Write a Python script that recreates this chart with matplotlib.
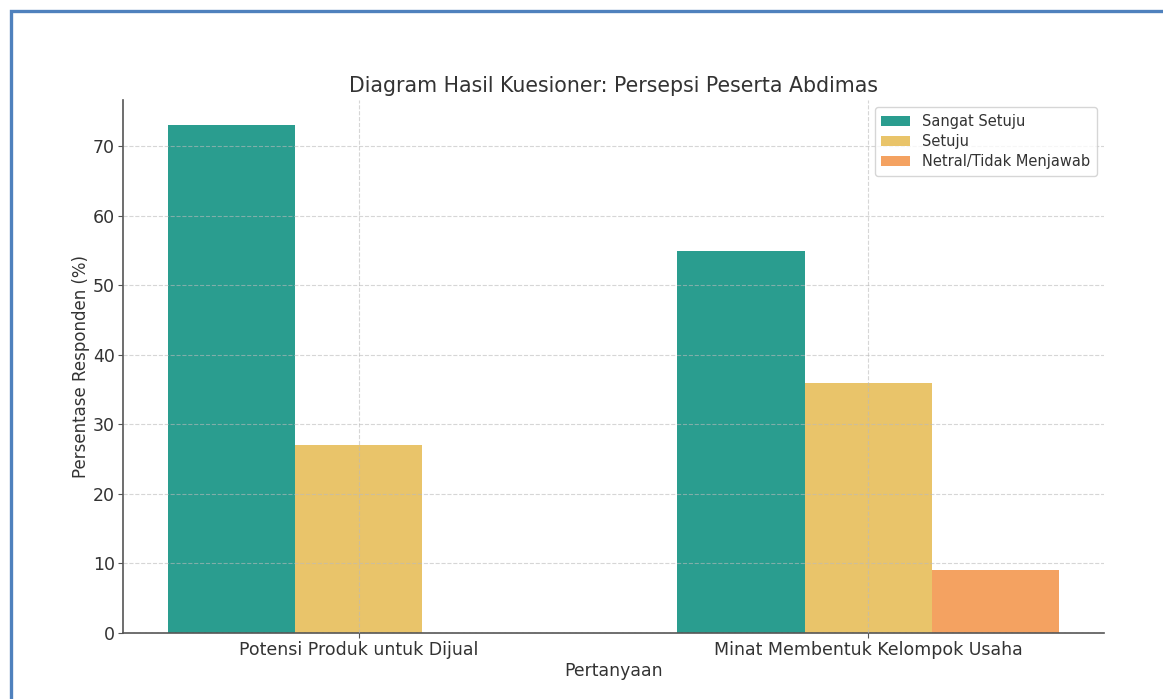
import matplotlib.pyplot as plt
import matplotlib.patches as mpatches
import numpy as np

# data
questions = ["Potensi Produk untuk Dijual", "Minat Membentuk Kelompok Usaha"]
sangat_setuju = [73, 55]
setuju = [27, 36]
netral = [0, 9]

series_names = ["Sangat Setuju", "Setuju", "Netral/Tidak Menjawab"]
colors = ["#2a9d8f", "#e9c46a", "#f4a261"]

text_col = "#333333"
plt.rcParams["font.family"] = "DejaVu Sans"

fig = plt.figure(figsize=(11.63, 6.99), dpi=100)
ax = fig.add_axes([123 / 1163, 1 - 633 / 699, (1104 - 123) / 1163, (633 - 100) / 699])

x = np.arange(len(questions))
w = 0.25
ax.bar(x - w, sangat_setuju, w, color=colors[0], label=series_names[0])
ax.bar(x, setuju, w, color=colors[1], label=series_names[1])
ax.bar(x + w, netral, w, color=colors[2], label=series_names[2])

ax.set_xticks(x)
ax.set_xticklabels(questions)
ax.set_yticks(np.arange(0, 80, 10))
ax.tick_params(labelsize=12.5, colors=text_col, pad=2.5)
ax.tick_params(axis="both", color="#555555")

ax.set_title("Diagram Hasil Kuesioner: Persepsi Peserta Abdimas", fontsize=14.8,
             color=text_col, pad=6)
ax.set_xlabel("Pertanyaan", fontsize=12.4, color=text_col, labelpad=2)
ax.set_ylabel("Persentase Responden (%)", fontsize=12.0, color=text_col, labelpad=2)

ax.grid(True, linestyle="--", color="#bbbbbb", alpha=0.6, linewidth=0.8)
ax.set_axisbelow(False)

for s in ["top", "right"]:
    ax.spines[s].set_visible(False)
for s in ["left", "bottom"]:
    ax.spines[s].set_color("#555555")
    ax.spines[s].set_linewidth(1.2)

leg = ax.legend(loc="upper right", fontsize=10.5, frameon=True, borderpad=0.45,
                handlelength=2.0, labelspacing=0.35)
for t in leg.get_texts():
    t.set_color(text_col)
leg.get_frame().set_edgecolor("#cccccc")

# blue screenshot frame
frame = mpatches.Rectangle((11 / 1163, -0.05), 1.2, 1 - 11 / 699 + 0.05,
                           transform=fig.transFigure, fill=False,
                           edgecolor="#4f81bd", linewidth=2.4, clip_on=False)
fig.patches.append(frame)

fig.savefig("out.png", dpi=100)
